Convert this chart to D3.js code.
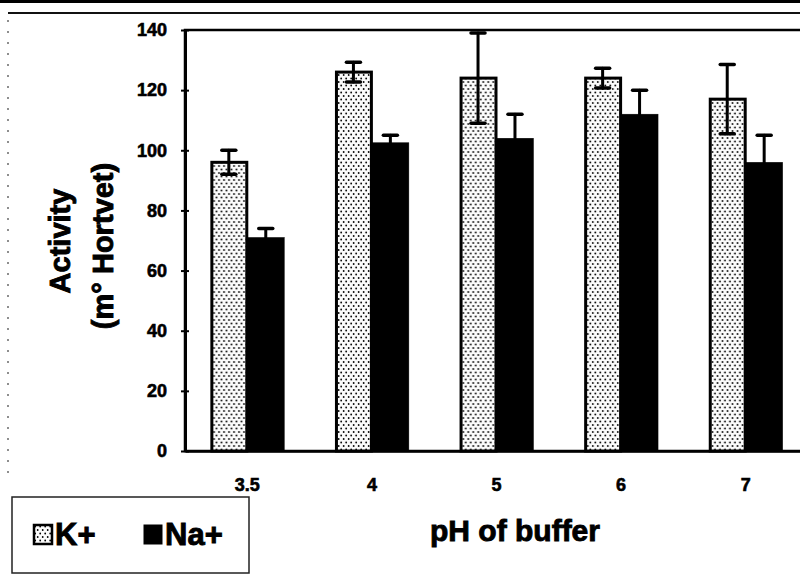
<!DOCTYPE html>
<html>
<head>
<meta charset="utf-8">
<script src="https://cdn.jsdelivr.net/npm/d3@7"></script>
<style>
  html, body { margin: 0; padding: 0; background: #fff; }
  svg { display: block; font-family: "Liberation Sans", Arial, sans-serif; font-weight: bold; }
  text { stroke: #000; stroke-width: 0.6px; fill: #000; }
</style>
</head>
<body>
<svg id="chart"></svg>
<script>
// pH values of the buffers and the two ion series
var phLabels = ["3.5", "4", "5", "6", "7"];
var seriesNames = ["K+", "Na+"];
var kValues = [96, 126, 124, 124, 117];
var kErrors = [4, 3.3, 15, 3.3, 11.5];
var naValues = [71, 102.5, 104, 112, 96];
var naErrors = [3, 2.5, 8, 8, 9];
var yTicks = [0, 20, 40, 60, 80, 100, 120, 140];

var width = 800;
var height = 574;
var margin = {top: 30, right: -8, bottom: 123, left: 185};

var svg = d3.select("#chart")
  .attr("width", width)
  .attr("height", height);

var defs = svg.append("defs");
var pat = defs.append("pattern")
  .attr("id", "dots")
  .attr("patternUnits", "userSpaceOnUse")
  .attr("width", 5)
  .attr("height", 7);
pat.append("rect").attr("width", 5).attr("height", 7).attr("fill", "#fbfbfb");
pat.append("circle").attr("cx", 1.2).attr("cy", 1.5).attr("r", 0.9).attr("fill", "#000");
pat.append("circle").attr("cx", 3.7).attr("cy", 5).attr("r", 0.9).attr("fill", "#000");

var data = phLabels.map(function(ph, i) {
  return {
    ph: ph,
    vals: [
      {name: "K+", value: kValues[i], err: kErrors[i]},
      {name: "Na+", value: naValues[i], err: naErrors[i]}
    ]
  };
});

var plotW = width - margin.left - margin.right;
var plotH = height - margin.top - margin.bottom;

var x0 = d3.scaleBand()
  .domain(phLabels)
  .range([margin.left, margin.left + plotW])
  .paddingInner(0.407)
  .paddingOuter(0.2035);

var x1 = d3.scaleBand()
  .domain(seriesNames)
  .range([0, x0.bandwidth()]);

var y = d3.scaleLinear()
  .domain([0, 140])
  .range([margin.top + plotH, margin.top]);

// scanned page borders
svg.append("rect").attr("x", 0).attr("y", 0).attr("width", width).attr("height", 3).attr("fill", "#000");
svg.append("line")
  .attr("x1", 8).attr("x2", width).attr("y1", 13).attr("y2", 13)
  .attr("stroke", "#111").attr("stroke-width", 2);
svg.append("line")
  .attr("x1", 8).attr("x2", 8).attr("y1", 20).attr("y2", 482)
  .attr("stroke", "#444").attr("stroke-width", 1.2)
  .attr("stroke-dasharray", "2,9");

// plot frame
svg.append("rect")
  .attr("x", margin.left).attr("y", margin.top)
  .attr("width", plotW).attr("height", plotH)
  .attr("fill", "none").attr("stroke", "#000").attr("stroke-width", 2.5);

// y axis
var yAxis = d3.axisLeft(y)
  .tickValues(yTicks)
  .tickSizeInner(4)
  .tickSizeOuter(0)
  .tickPadding(14);

var gy = svg.append("g")
  .attr("transform", "translate(" + margin.left + ",0)")
  .call(yAxis);
gy.select(".domain").attr("stroke-width", 3);
gy.selectAll(".tick line").attr("x2", 4).attr("x1", -4).attr("stroke-width", 2);
gy.selectAll(".tick text")
  .attr("font-size", 18)
  .attr("font-family", "Liberation Sans, Arial, sans-serif")
  .attr("font-weight", "bold");

// x axis labels only
var xAxis = d3.axisBottom(x0).tickSize(0).tickPadding(27);
var gx = svg.append("g")
  .attr("transform", "translate(0," + (margin.top + plotH) + ")")
  .call(xAxis);
gx.select(".domain").attr("stroke-width", 2.5);
gx.selectAll(".tick text")
  .attr("font-size", 18)
  .attr("font-family", "Liberation Sans, Arial, sans-serif")
  .attr("font-weight", "bold");

// bars
var groups = svg.append("g").selectAll("g")
  .data(data)
  .enter().append("g")
  .attr("transform", function(d) { return "translate(" + x0(d.ph) + ",0)"; });

groups.selectAll("rect")
  .data(function(d) { return d.vals; })
  .enter().append("rect")
  .attr("x", function(d) { return x1(d.name) + (d.name === "K+" ? 1.5 : 0); })
  .attr("y", function(d) { return y(d.value); })
  .attr("width", function(d) { return x1.bandwidth() - (d.name === "K+" ? 2 : 0); })
  .attr("height", function(d) { return y(0) - y(d.value); })
  .attr("fill", function(d) { return d.name === "K+" ? "url(#dots)" : "#000"; })
  .attr("stroke", "#000")
  .attr("stroke-width", function(d) { return d.name === "K+" ? 3 : 0.5; });

// error bars
var err = groups.selectAll("g.err")
  .data(function(d) { return d.vals; })
  .enter().append("g")
  .attr("class", "err")
  .attr("stroke", "#000")
  .attr("stroke-linecap", "round");

err.append("line")
  .attr("x1", function(d) { return x1(d.name) + x1.bandwidth() / 2; })
  .attr("x2", function(d) { return x1(d.name) + x1.bandwidth() / 2; })
  .attr("y1", function(d) { return y(d.value - d.err); })
  .attr("y2", function(d) { return y(d.value + d.err); })
  .attr("stroke-width", 3);

err.selectAll("line.cap")
  .data(function(d) { return [d.value - d.err, d.value + d.err].map(function(v) { return {name: d.name, v: v}; }); })
  .enter().append("line")
  .attr("class", "cap")
  .attr("x1", function(d) { return x1(d.name) + x1.bandwidth() / 2 - 7; })
  .attr("x2", function(d) { return x1(d.name) + x1.bandwidth() / 2 + 7; })
  .attr("y1", function(d) { return y(d.v); })
  .attr("y2", function(d) { return y(d.v); })
  .attr("stroke-width", 3.5);

// axis titles
svg.append("text")
  .attr("transform", "translate(70,241) rotate(-90)")
  .attr("text-anchor", "middle")
  .attr("font-size", 29)
  .style("stroke-width", "0.9px")
  .text("Activity");
svg.append("text")
  .attr("transform", "translate(113,246) rotate(-90)")
  .attr("text-anchor", "middle")
  .attr("font-size", 29)
  .style("stroke-width", "0.9px")
  .text("(m\u00B0 Hortvet)");

svg.append("text")
  .attr("x", 515)
  .attr("y", 541)
  .attr("text-anchor", "middle")
  .attr("font-size", 30)
  .style("stroke-width", "0.9px")
  .text("pH of buffer");

// legend
var legend = svg.append("g");
legend.append("rect")
  .attr("x", 12).attr("y", 497)
  .attr("width", 237).attr("height", 76)
  .attr("fill", "none").attr("stroke", "#222").attr("stroke-width", 1.5);

var legX = [34, 144];
var items = legend.selectAll("g.item")
  .data(seriesNames)
  .enter().append("g")
  .attr("class", "item")
  .attr("transform", function(d, i) { return "translate(" + legX[i] + ",525)"; });

items.append("rect")
  .attr("width", 18).attr("height", 19)
  .attr("fill", function(d) { return d === "K+" ? "url(#dots)" : "#000"; })
  .attr("stroke", "#000")
  .attr("stroke-width", function(d) { return d === "K+" ? 2.5 : 1; });

items.append("text")
  .attr("x", 21)
  .attr("y", 20)
  .attr("font-size", 31)
  .style("stroke-width", "0.9px")
  .text(function(d) { return d; });
</script>
</body>
</html>
